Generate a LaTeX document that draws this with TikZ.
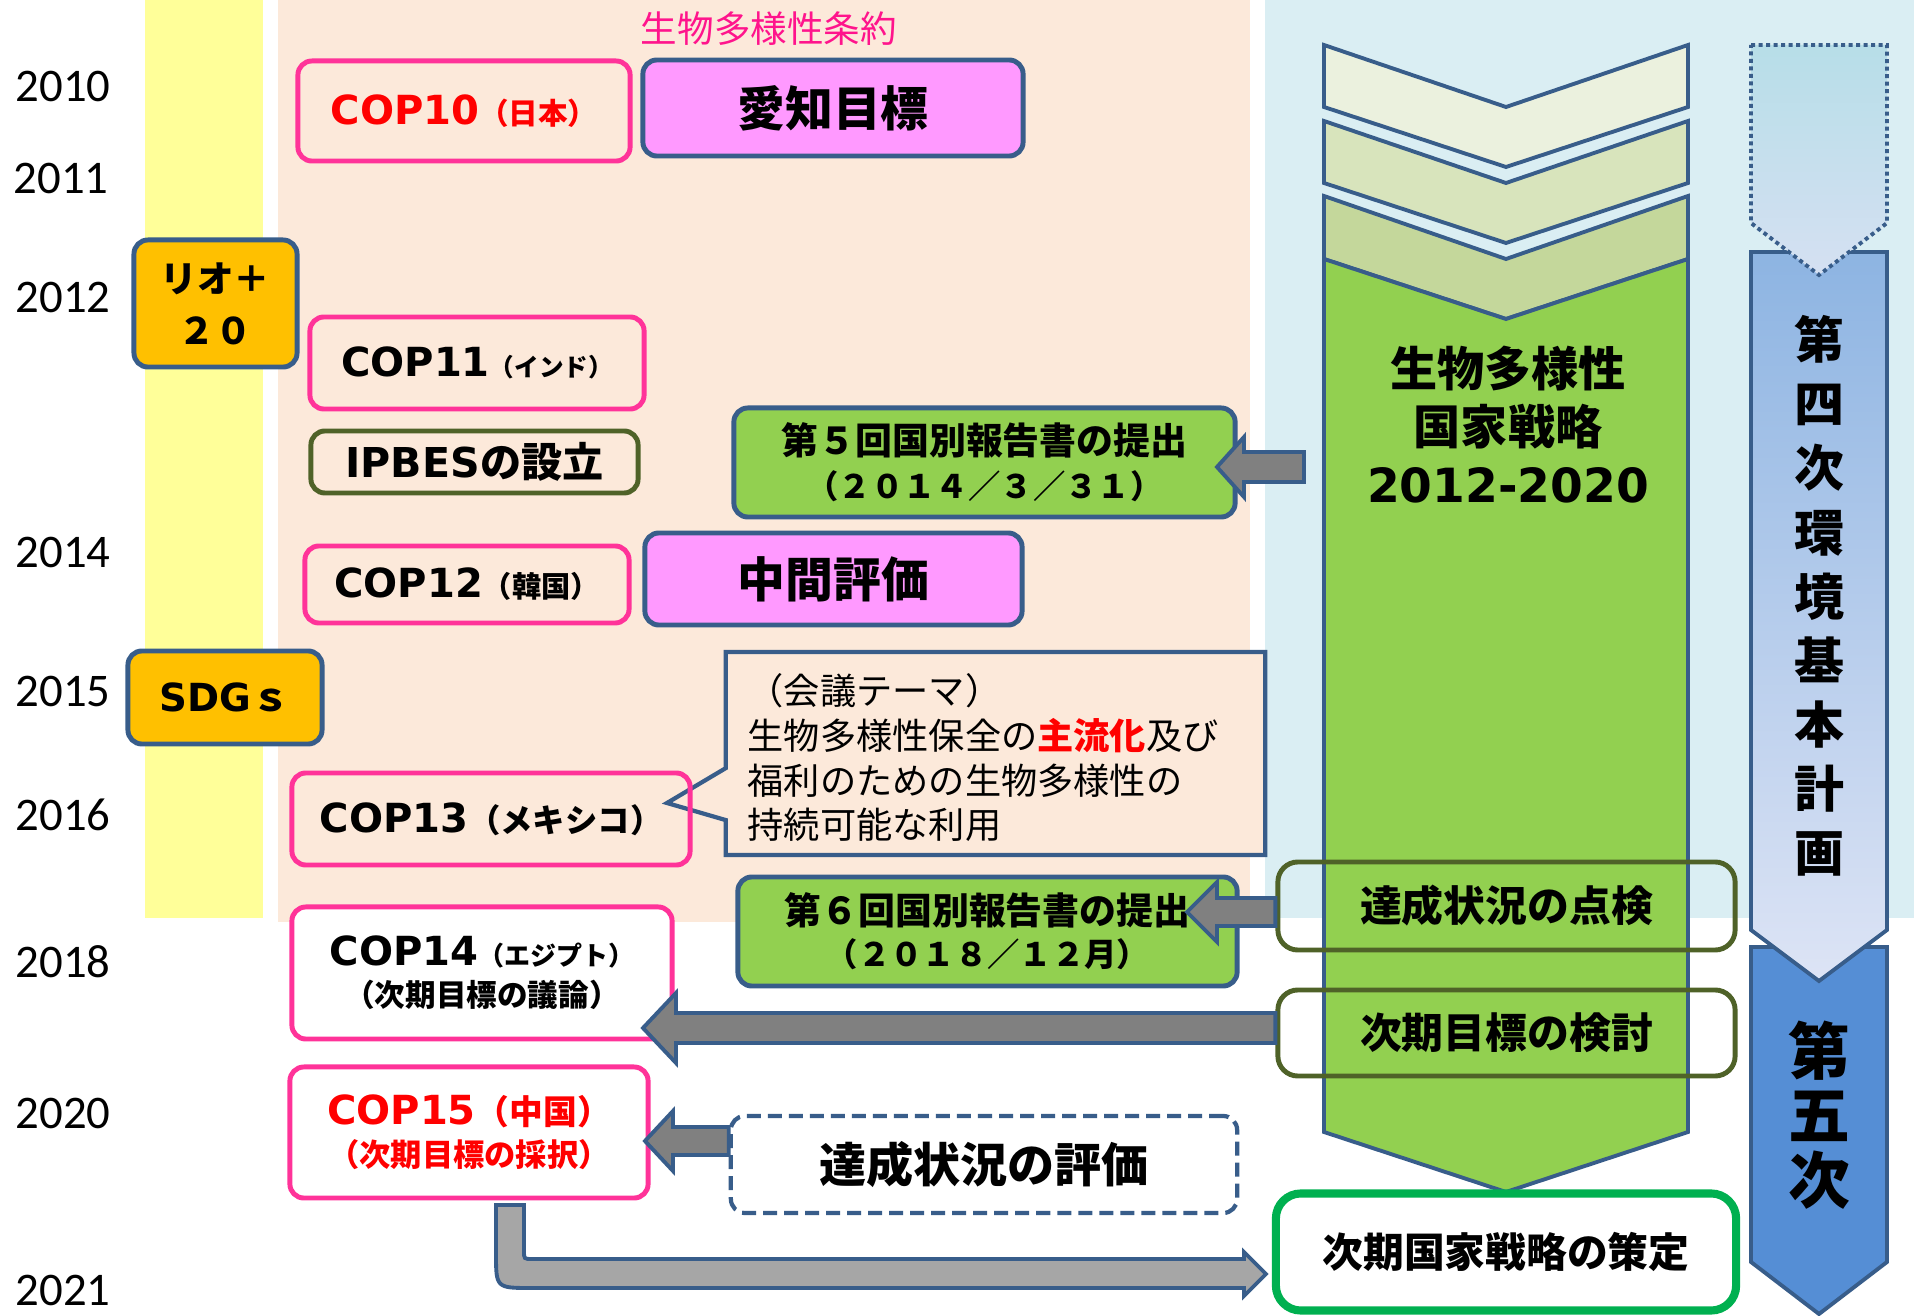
\documentclass[tikz,border=0pt]{standalone}
\usepackage{fontspec}
\setmainfont{Noto Sans CJK JP}
\newfontfamily\jp{Noto Sans CJK JP}
\newfontfamily\lat{DejaVu Sans}
\newfontfamily\yr{Carlito}
\usetikzlibrary{calc,shapes.callouts}
\newcommand\fs[2]{\fontsize{#1pt}{#2pt}\selectfont}
\definecolor{peach}{HTML}{FCE9DA}
\definecolor{yel}{HTML}{FFFF99}
\definecolor{lblue}{HTML}{DAEEF3}
\definecolor{pinkb}{HTML}{FF3399}
\definecolor{blueb}{HTML}{385D8A}
\definecolor{oliveb}{HTML}{4F6228}
\definecolor{magfill}{HTML}{FF99FF}
\definecolor{orfill}{HTML}{FFC000}
\definecolor{grn}{HTML}{92D050}
\definecolor{grnb}{HTML}{00B050}
\definecolor{arrgray}{HTML}{808080}
\definecolor{arrgrayb}{HTML}{A6A6A6}
\definecolor{chA}{HTML}{EBF1DE}
\definecolor{chB}{HTML}{D8E4BC}
\definecolor{chC}{HTML}{C4D79B}
\definecolor{pA}{HTML}{8DB4E2}
\definecolor{pB}{HTML}{DDE4F5}
\definecolor{dA}{HTML}{B7DEE8}
\definecolor{dB}{HTML}{D5E0F2}
\definecolor{pfive}{HTML}{558ED5}
\definecolor{titlec}{RGB}{255,20,140}
\tikzset{
  bx/.style={rounded corners=0.14cm, line width=1.4pt, inner sep=0pt, align=center},
  copbox/.style={bx, draw=pinkb},
  bluebox/.style={bx, draw=blueb},
  olivebox/.style={bx, draw=oliveb, rounded corners=0.2cm},
  barrow/.style={draw=blueb, fill=arrgray, line width=1.1pt},
  year/.style={anchor=west, inner sep=0pt, font=\yr\fs{13.3}{16}},
  chev/.style={draw=blueb, line width=1.1pt},
  plan/.style={draw=blueb, line width=1.1pt},
}
\newcommand\harrow[5]{%
  \draw[barrow] ($(#1|-#2)+(0,-#3)$) -- ($(#2)+(#5,-#3)$) -- ($(#2)+(#5,-#4)$) -- (#2)
    -- ($(#2)+(#5,#4)$) -- ($(#2)+(#5,#3)$) -- ($(#1|-#2)+(0,#3)$) -- cycle;}
\begin{document}
\begin{tikzpicture}[x=0.01cm,y=-0.01cm]
\useasboundingbox (0,0) rectangle (1914,1316);
% backgrounds
\fill[yel] (145,0) rectangle (263,918);
\fill[peach] (278,0) rectangle (1250,922);
\fill[lblue] (1265,0) rectangle (1914,918);
% years
\node[year] (y2010) at (15,86) {2010};
\node[year] (y2011) at (13,178) {2011};
\node[year] (y2012) at (15,297) {2012};
\node[year] (y2014) at (15,552) {2014};
\node[year] (y2015) at (15,691) {2015};
\node[year] (y2016) at (15,815) {2016};
\node[year] (y2018) at (15,962) {2018};
\node[year] (y2020) at (15,1113) {2020};
\node[year] (y2021) at (15,1290) {2021};
% title
\node[inner sep=0pt, text=titlec, font=\fs{10.4}{12}] (cbd) at (769,29) {生物多様性条約};
% strategy chevrons
\draw[chev, fill=chA] (1324,45) -- (1506,107) -- (1688,45) -- (1688,107) -- (1506,167) -- (1324,107) -- cycle;
\draw[chev, fill=chB] (1324,121) -- (1506,183) -- (1688,121) -- (1688,183) -- (1506,243) -- (1324,183) -- cycle;
\draw[chev, fill=chC] (1324,196) -- (1506,259) -- (1688,196) -- (1688,259) -- (1506,319) -- (1324,259) -- cycle;
\draw[chev, fill=grn] (1324,259) -- (1506,319) -- (1688,259) -- (1688,1132) -- (1506,1192) -- (1324,1132) -- cycle;
\node[align=center, inner sep=0pt, font=\bfseries\fs{13.4}{16.5}] (strat) at (1508,425) {生物多様性\\国家戦略\\{\lat 2012-2020}};
% environment plans
\draw[plan, fill=pfive] (1751,947) -- (1887,947) -- (1887,1262) -- (1819,1314) -- (1751,1262) -- cycle;
\draw[plan, top color=pA, bottom color=pB] (1751,252) -- (1887,252) -- (1887,930) -- (1819,981) -- (1751,930) -- cycle;
\draw[plan, top color=dA, bottom color=dB, dash pattern=on 0.04cm off 0.035cm] (1751,45) -- (1887,45) -- (1887,223) -- (1819,275) -- (1751,223) -- cycle;
\node[align=center, inner sep=0pt, font=\bfseries\fs{14.2}{18.25}] (plan4) at (1819,596) {第\\四\\次\\環\\境\\基\\本\\計\\画};
\node[align=center, inner sep=0pt, font=\bfseries\fs{17.6}{18.35}] (plan5) at (1819,1115) {第\\五\\次};
% left boxes
\node[copbox, minimum width=3.32cm, minimum height=1.0cm, text=red, font=\bfseries] (cop10) at (464,111) {{\lat\fs{11.4}{14}COP10}{\fs{8.4}{10}（日本）}};
\node[bluebox, fill=magfill, minimum width=3.8cm, minimum height=0.96cm, font=\bfseries\fs{13.6}{16}] (aichi) at (833,108) {愛知目標};
\node[bluebox, fill=orfill, minimum width=1.63cm, minimum height=1.27cm, font=\bfseries\fs{10.4}{14.8}] (rio) at (215.5,303.5) {リオ＋\\２０};
\node[copbox, minimum width=3.34cm, minimum height=0.92cm, font=\bfseries] (cop11) at (477,363) {{\lat\fs{11.4}{14}COP11}{\fs{7}{10}（インド）}};
\node[olivebox, rounded corners=0.14cm, minimum width=3.27cm, minimum height=0.62cm, font=\bfseries\fs{11.7}{14}] (ipbes) at (474.5,462) {{\lat IPBES}の設立};
\node[bluebox, fill=grn, minimum width=5.01cm, minimum height=1.09cm, font=\bfseries\fs{10.5}{12.5}] (rep5) at (984.5,462.5) {第５回国別報告書の提出\\{\fs{9.2}{12.5}（２０１４／３／３１）}};
\node[copbox, minimum width=3.24cm, minimum height=0.77cm, font=\bfseries] (cop12) at (467,584.5) {{\lat\fs{11.4}{14}COP12}{\fs{8.3}{10}（韓国）}};
\node[bluebox, fill=magfill, minimum width=3.77cm, minimum height=0.92cm, font=\bfseries\fs{13.6}{16}] (chukan) at (833.5,579) {中間評価};
\node[bluebox, fill=orfill, minimum width=1.94cm, minimum height=0.93cm, font=\bfseries\fs{11}{13}] (sdgs) at (225,697.5) {{\lat SDG}ｓ};
\node[rectangle callout, draw=blueb, fill=peach, line width=1.2pt, inner sep=0pt, minimum width=5.39cm, minimum height=2.03cm, callout absolute pointer={(667,803)}, callout pointer width=0.52cm] (theme) at (995.5,753.5) {};
\node[anchor=north west, align=left, inner sep=0pt, font=\fs{10.3}{12.7}] (themetext) at (747,673) {（会議テーマ）\\生物多様性保全の{\bfseries\color{red}主流化}及び\\福利のための生物多様性の\\持続可能な利用};
\node[copbox, minimum width=3.98cm, minimum height=0.92cm, font=\bfseries] (cop13) at (491,819) {{\lat\fs{11.4}{14}COP13}{\fs{9.2}{10}（メキシコ）}};
\node[bluebox, fill=grn, minimum width=4.99cm, minimum height=1.09cm, font=\bfseries\fs{10.5}{12}] (rep6) at (987.5,931.5) {第６回国別報告書の提出\\{\fs{9.2}{12}（２０１８／１２月）}};
\node[copbox, fill=white, minimum width=3.8cm, minimum height=1.32cm, font=\bfseries\fs{8.7}{11.7}] (cop14) at (482,973) {{\lat\fs{11.4}{11.7}COP14}{\fs{7.4}{11.7}（エジプト）}\\（次期目標の議論）};
\node[copbox, fill=white, minimum width=3.58cm, minimum height=1.31cm, text=red, font=\bfseries\fs{8.9}{12}] (cop15) at (469,1132.5) {{\lat\fs{11.4}{12}COP15}{\fs{9.6}{12}（中国）}\\（次期目標の採択）};
\node[bx, draw=blueb, fill=white, dash pattern=on 0.14cm off 0.07cm, line width=1.2pt, minimum width=5.06cm, minimum height=0.97cm, font=\bfseries\fs{13.4}{16}] (hyouka) at (984,1164.5) {達成状況の評価};
% arrows
\coordinate (t5) at (1217,467);
\coordinate (a5tail) at (1304,467);
\harrow{a5tail}{t5}{15}{30}{27}
\coordinate (t6) at (1187,912);
\coordinate (t14) at (643,1028);
\coordinate (t15) at (645,1141);
\node[olivebox, minimum width=4.57cm, minimum height=0.88cm, font=\bfseries\fs{11.9}{14}] (tenken) at (1506.5,906) {達成状況の点検};
\node[olivebox, minimum width=4.57cm, minimum height=0.86cm, font=\bfseries\fs{11.9}{14}] (kentou) at (1506.5,1033) {次期目標の検討};
\harrow{tenken.west}{t6}{14}{30}{30}
\harrow{kentou.west}{t14}{15}{35}{33}
\harrow{hyouka.west}{t15}{14}{30}{28}
\node[bx, draw=grnb, fill=white, line width=2.3pt, rounded corners=0.25cm, minimum width=4.6cm, minimum height=1.17cm, font=\bfseries\fs{11.6}{13}] (sakutei) at (1506,1252) {次期国家戦略の策定};
\coordinate (bs) at (496,1205);
\coordinate (btip) at (1266,1274);
\draw[barrow, fill=arrgrayb] (bs) -- (524,1205) -- (524,1251) .. controls (524,1259) .. (532,1259) -- (1244,1259) -- (1244,1252) -- (btip) -- (1244,1296) -- (1244,1288) -- (531,1288) .. controls (496,1288) .. (496,1253) -- cycle;
\end{tikzpicture}
\end{document}
